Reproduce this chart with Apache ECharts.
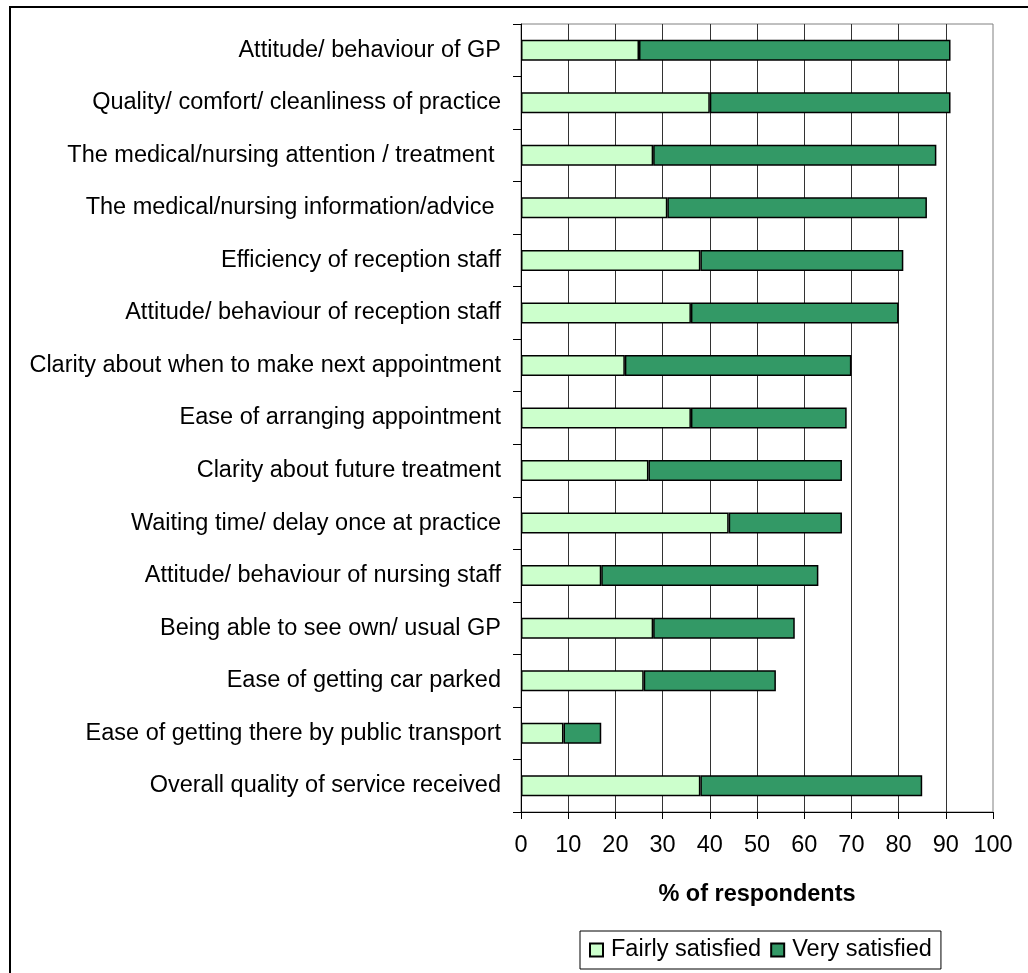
<!DOCTYPE html>
<html>
<head>
<meta charset="utf-8">
<script src="https://cdn.jsdelivr.net/npm/echarts@6/dist/echarts.min.js"></script>
<style>
  html, body { margin: 0; padding: 0; background: #fff; }
  #chart { width: 1028px; height: 973px; }
</style>
</head>
<body>
<div id="chart"></div>
<script>
// Satisfaction aspects, listed top to bottom
const categories = [
  'Attitude/ behaviour of GP',
  'Quality/ comfort/ cleanliness of practice',
  'The medical/nursing attention / treatment ',
  'The medical/nursing information/advice ',
  'Efficiency of reception staff',
  'Attitude/ behaviour of reception staff',
  'Clarity about when to make next appointment',
  'Ease of arranging appointment',
  'Clarity about future treatment',
  'Waiting time/ delay once at practice',
  'Attitude/ behaviour of nursing staff',
  'Being able to see own/ usual GP',
  'Ease of getting car parked',
  'Ease of getting there by public transport',
  'Overall quality of service received'
];

// % of respondents in each group
const fairlySatisfied = [25, 40, 28, 31, 38, 36, 22, 36, 27, 44, 17, 28, 26, 9, 38];
const verySatisfied   = [66, 51, 60, 55, 43, 44, 48, 33, 41, 24, 46, 30, 28, 8, 47];

const seriesNames = ['Fairly satisfied', 'Very satisfied'];
const xTicks = { min: 0, max: 100, interval: 10 };
const xTitle = '% of respondents';

const FONT = '"Liberation Sans", Arial, sans-serif';
const FS = 23.5;

const chart = echarts.init(document.getElementById('chart'), null, { renderer: 'canvas' });

chart.setOption({
  animation: false,
  backgroundColor: '#ffffff',
  textStyle: { fontFamily: FONT },
  graphic: [{
    type: 'rect',
    shape: { x: 10, y: 7, width: 1100, height: 1100 },
    style: { fill: 'none', stroke: '#000', lineWidth: 2 },
    silent: true,
    z: -1
  }],
  grid: {
    left: 521,
    right: 35,
    top: 24,
    bottom: 161,
    show: true,
    borderColor: '#808080',
    borderWidth: 1,
    backgroundColor: 'transparent'
  },
  legend: {
    data: seriesNames,
    left: 580,
    top: 931,
    orient: 'horizontal',
    icon: 'rect',
    itemWidth: 13,
    itemHeight: 13,
    itemGap: 9,
    padding: [7, 9, 7, 9],
    borderColor: '#000',
    borderWidth: 1,
    textStyle: { fontFamily: FONT, fontSize: FS, color: '#000', padding: [0, 0, 0, 3] }
  },
  xAxis: {
    type: 'value',
    min: xTicks.min,
    max: xTicks.max,
    interval: xTicks.interval,
    name: xTitle,
    nameLocation: 'middle',
    nameGap: 71,
    nameTextStyle: { fontFamily: FONT, fontSize: FS, fontWeight: 'bold', color: '#000' },
    axisLine: { show: true, lineStyle: { color: '#000', width: 1 } },
    axisTick: { show: true, length: 7, lineStyle: { color: '#000' } },
    axisLabel: { fontFamily: FONT, fontSize: FS, color: '#000', margin: 22 },
    splitLine: {
      show: true,
      showMinLine: false,
      showMaxLine: false,
      lineStyle: { color: '#333', width: 1 }
    }
  },
  yAxis: {
    type: 'category',
    data: categories,
    inverse: true,
    axisLine: { show: true, lineStyle: { color: '#000', width: 1 } },
    axisTick: { show: true, length: 8, lineStyle: { color: '#000' } },
    axisLabel: { fontFamily: FONT, fontSize: FS, color: '#000', margin: 20 },
    splitLine: { show: false }
  },
  series: [
    {
      name: seriesNames[0],
      type: 'bar',
      stack: 'total',
      data: fairlySatisfied,
      barCategoryGap: '60%',
      itemStyle: { color: '#CCFFCC', borderColor: '#000', borderWidth: 1.5 }
    },
    {
      name: seriesNames[1],
      type: 'bar',
      stack: 'total',
      data: verySatisfied,
      barCategoryGap: '60%',
      itemStyle: { color: '#339966', borderColor: '#000', borderWidth: 1.5 }
    }
  ]
});
</script>
</body>
</html>
